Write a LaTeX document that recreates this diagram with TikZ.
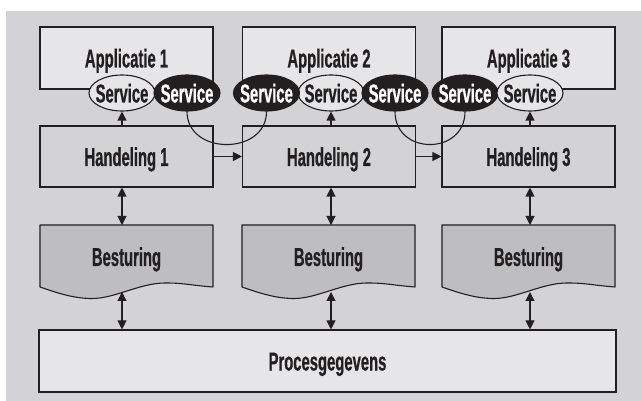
\documentclass[tikz,border=0pt]{standalone}
\usepackage{fontspec}
\setmainfont{Liberation Sans}[FakeStretch=0.57,FakeBold=0.6]
\usetikzlibrary{arrows.meta,shapes.geometric}
\definecolor{bgc}{HTML}{D3D3D5}
\definecolor{lightc}{HTML}{E6E6E8}
\definecolor{darkc}{HTML}{BEBEC1}
\definecolor{inkc}{HTML}{231F20}
\begin{document}
\begin{tikzpicture}[x=1pt,y=-1pt,line width=1.1pt,draw=inkc,
  txt/.style={font=\fontsize{26}{28}\selectfont\bfseries,text=inkc,text height=19pt,text depth=0pt,inner sep=0pt},
  appbox/.style={txt,draw=inkc,fill=lightc,minimum width=173pt,minimum height=62pt},
  handbox/.style={txt,draw=inkc,fill=bgc,minimum width=173pt,minimum height=61pt},
  procbox/.style={txt,draw=inkc,fill=lightc,minimum width=577pt,minimum height=62pt},
  servw/.style={txt,ellipse,draw=inkc,fill=lightc,minimum width=66pt,minimum height=36pt},
  servb/.style={txt,ellipse,draw=inkc,fill=inkc,text=white,minimum width=66pt,minimum height=36pt},
  arr/.style={draw=inkc,-{Triangle[length=9pt,width=9pt]}},
  darr/.style={draw=inkc,{Triangle[length=9pt,width=9pt]}-{Triangle[length=9pt,width=9pt]}},
  curve/.style={draw=inkc}]
\useasboundingbox (0,0) rectangle (641,401);
\fill[bgc] (6,11) rectangle (641,401);
% application boxes
\node[appbox] (app1) at (126.5,58) {Applicatie 1};
\node[appbox] (app2) at (329,58) {Applicatie 2};
\node[appbox] (app3) at (528.5,58) {Applicatie 3};
% services
\node[servw] (s1w) at (122,93) {\makebox[0pt]{Service}};
\node[servb] (s1b) at (187,93) {\makebox[0pt]{Service}};
\node[servw] (s2w) at (331,93) {\makebox[0pt]{Service}};
\node[servb] (s2bl) at (266.5,93) {\makebox[0pt]{Service}};
\node[servb] (s2br) at (395,93) {\makebox[0pt]{Service}};
\node[servb] (s3b) at (465,93) {\makebox[0pt]{Service}};
\node[servw] (s3w) at (530,93) {\makebox[0pt]{Service}};
% handeling boxes
\node[handbox] (h1) at (126.5,156.5) {Handeling 1};
\node[handbox] (h2) at (329,156.5) {Handeling 2};
\node[handbox] (h3) at (528.5,156.5) {Handeling 3};
% besturing shapes
\foreach \L/\n in {40/1,242/2,442/3}{
  \filldraw[fill=darkc,draw=inkc,line join=round] (\L,225) -- ++(173,0) -- ++(0,62)
    .. controls +(-25,-2) and +(20,0) .. (\L+125,283)
    .. controls +(-25,0) and +(23,0) .. (\L+52,298.5)
    .. controls +(-17,0) and +(20,7) .. (\L,287) -- cycle;
  \node[txt] (b\n) at (\L+86.5,256.5) {Besturing};
}
% proces
\node[procbox] (proc) at (327.5,361) {Procesgegevens};
% curves between services
\draw[curve] (s1b.south) .. controls +(0,44) and +(0,44) .. (s2bl.south);
\draw[curve] (s2br.south) .. controls +(0,44) and +(0,44) .. (s3b.south);
% arrows
\draw[arr] (h1.east) -- (h2.west);
\draw[arr] (h2.east) -- (h3.west);
\foreach \s/\h/\b in {s1w/h1/b1,s2w/h2/b2,s3w/h3/b3}{
  \draw[arr] (\s.south |- \h.north) -- (\s.south);
  \draw[darr] (\s.south |- \h.south) -- (\s.south |- 0,225);
  \draw[darr] (\s.south |- 0,292) -- (\s.south |- proc.north);
}
\end{tikzpicture}
\end{document}
